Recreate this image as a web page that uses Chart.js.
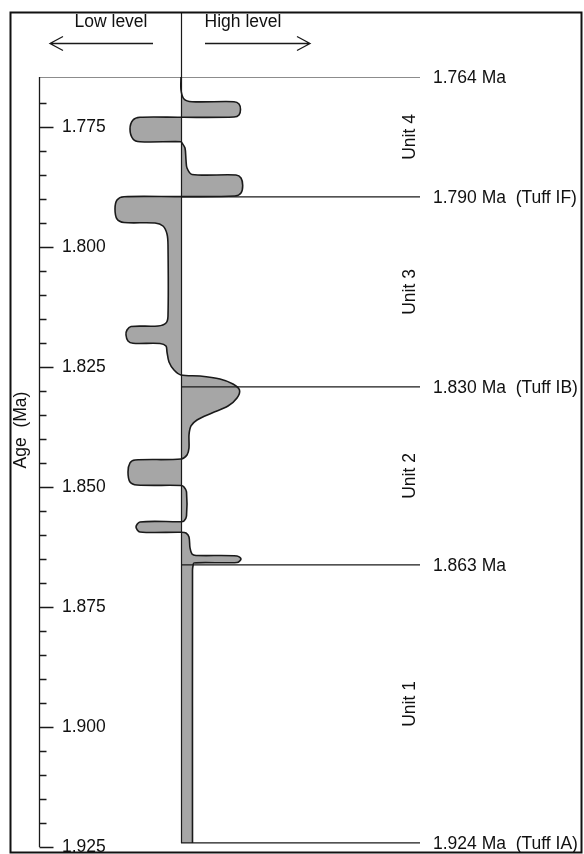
<!DOCTYPE html>
<html>
<head>
<meta charset="utf-8">
<script src="https://cdn.jsdelivr.net/npm/chart.js@4.4.1/dist/chart.umd.min.js"></script>
<style>
  html, body { margin: 0; padding: 0; background: #fff; }
  canvas { display: block; }
</style>
</head>
<body>
<canvas id="levelChart" width="584" height="854"></canvas>
<script>
// Lake level curve (relative level, 0 = centre line; negative = low, positive = high)
const curveAge = [
  1.7645, 1.76721, 1.76909, 1.76965, 1.76965, 1.77013, 1.77127, 1.77242, 1.77284, 1.7729,
  1.7729, 1.77346, 1.77534, 1.77742, 1.77799, 1.77799, 1.77826, 1.7793, 1.7818, 1.78347,
  1.78482, 1.78493, 1.78555, 1.78711, 1.78868, 1.7893, 1.78943, 1.78945, 1.79014, 1.79201,
  1.7941, 1.79483, 1.79493, 1.79556, 1.79722, 1.79952, 1.81431, 1.81577, 1.8164, 1.8165,
  1.81723, 1.81827, 1.81952, 1.82, 1.82004, 1.82057, 1.82182, 1.8239, 1.82557, 1.82661,
  1.82682, 1.82744, 1.82849, 1.82974, 1.8314, 1.83307, 1.83453, 1.83599, 1.83724, 1.83911,
  1.84182, 1.84328, 1.84412, 1.84433, 1.84495, 1.84683, 1.84891, 1.84954, 1.84964, 1.84995,
  1.85099, 1.856, 1.85704, 1.85719, 1.85725, 1.85829, 1.85933, 1.85939, 1.85954, 1.86037,
  1.86267, 1.86392, 1.86423, 1.86433, 1.86496, 1.86569, 1.86579, 1.86642, 1.86725, 1.92415
];
const curveLevel = [
  0, 0, 0.3, 1.1, 5.3, 5.8, 5.95, 5.8, 5.3, 0,
  -4.1, -4.8, -5.1, -4.8, -4.1, 0, 0.1, 0.4, 0.5, 0.6,
  1.1, 5.5, 6.0, 6.17, 6.0, 5.4, 0, -5.7, -6.4, -6.6,
  -6.4, -5.7, -2.6, -1.8, -1.4, -1.3, -1.3, -1.5, -2.3, -5.0,
  -5.4, -5.5, -5.3, -4.8, -2.1, -1.5, -1.4, -1.2, -0.7, 0,
  1.9, 3.9, 5.2, 5.85, 5.6, 4.7, 3.1, 1.6, 1.0, 0.8,
  0.8, 0.6, 0, -4.6, -5.1, -5.3, -5.1, -4.4, 0, 0.3,
  0.55, 0.55, 0.3, 0, -4.1, -4.5, -4.1, 0, 0.5, 0.8,
  0.9, 1.1, 1.5, 5.6, 6.0, 5.6, 1.3, 1.2, 1.15, 1.15
];

// Dated horizons (age where each line is drawn) and their labels
const boundaryAge = [1.7645, 1.7895, 1.8291, 1.8662, 1.92415];
const boundaryLabels = ['1.764 Ma', '1.790 Ma  (Tuff IF)', '1.830 Ma  (Tuff IB)', '1.863 Ma', '1.924 Ma  (Tuff IA)'];
const unitLabels = ['Unit 4', 'Unit 3', 'Unit 2', 'Unit 1'];

const ageMin = 1.7645;
const ageMax = 1.925;
const levelMin = -14.2;
const levelMax = 23.9;

const FONT = "'Liberation Sans', Arial, sans-serif";
const INK = '#1a1a1a';

function isMajor(v) {
    return Math.abs(Math.round(v / 0.025) * 0.025 - v) < 1e-6;
}

const datasets = [];

// horizon lines (drawn above the fill)
boundaryAge.forEach((a, i) => {
    datasets.push({
        data: [{ x: i === 0 ? levelMin : 0, y: a }, { x: levelMax, y: a }],
        borderColor: INK,
        borderWidth: 1.2,
        pointRadius: 0,
        fill: false,
        tension: 0
    });
});

// level curve
datasets.push({
    data: curveAge.map((a, i) => ({ x: curveLevel[i], y: a })),
    borderColor: INK,
    borderWidth: 1.6,
    backgroundColor: '#a6a6a6',
    pointRadius: 0,
    fill: { value: 0 },
    tension: 0.3
});

const decorPlugin = {
    id: 'decor',
    afterDraw(chart) {
        const ctx = chart.ctx;
        const xs = chart.scales.x;
        const ys = chart.scales.y;
        const area = chart.chartArea;
        const cx = Math.round(xs.getPixelForValue(0)) + 0.5;

        ctx.save();
        ctx.strokeStyle = INK;
        ctx.fillStyle = '#111';

        // centre line
        ctx.lineWidth = 1.2;
        ctx.beginPath();
        ctx.moveTo(cx, 13);
        ctx.lineTo(cx, ys.getPixelForValue(boundaryAge[boundaryAge.length - 1]));
        ctx.stroke();

        // axis line and ticks
        const ax = area.left + 0.5;
        ctx.lineWidth = 1.3;
        ctx.beginPath();
        ctx.moveTo(ax, area.top);
        ctx.lineTo(ax, area.bottom);
        ys.ticks.forEach(t => {
            if (t.value < ageMin + 0.001) return;
            const py = Math.round(ys.getPixelForValue(t.value)) + 0.5;
            ctx.moveTo(ax, py);
            ctx.lineTo(ax + (isMajor(t.value) ? 14 : 7), py);
        });
        ctx.stroke();

        // header
        ctx.font = '17.5px ' + FONT;
        ctx.textAlign = 'center';
        ctx.textBaseline = 'alphabetic';
        ctx.fillText('Low level', 111, 27);
        ctx.fillText('High level', 243, 27);

        ctx.lineWidth = 1.3;
        ctx.beginPath();
        ctx.moveTo(153, 43.5); ctx.lineTo(50, 43.5);
        ctx.moveTo(63, 36.5); ctx.lineTo(50, 43.5); ctx.lineTo(63, 50.5);
        ctx.moveTo(205, 43.5); ctx.lineTo(310, 43.5);
        ctx.moveTo(297, 36.5); ctx.lineTo(310, 43.5); ctx.lineTo(297, 50.5);
        ctx.stroke();

        // horizon labels
        ctx.textAlign = 'left';
        ctx.textBaseline = 'middle';
        boundaryAge.forEach((a, i) => {
            ctx.fillText(boundaryLabels[i], area.right + 13, ys.getPixelForValue(a) + 1);
        });

        // unit labels, centred between horizons
        unitLabels.forEach((u, i) => {
            const py = (ys.getPixelForValue(boundaryAge[i]) + ys.getPixelForValue(boundaryAge[i + 1])) / 2;
            ctx.save();
            ctx.translate(area.right - 10, py);
            ctx.rotate(-Math.PI / 2);
            ctx.textAlign = 'center';
            ctx.fillText(u, 0, 0);
            ctx.restore();
        });

        // axis title
        ctx.save();
        ctx.translate(21, 430);
        ctx.rotate(-Math.PI / 2);
        ctx.textAlign = 'center';
        ctx.fillText('Age  (Ma)', 0, 0);
        ctx.restore();

        // frame
        ctx.lineWidth = 2;
        ctx.strokeStyle = '#111';
        ctx.strokeRect(10.5, 12.5, 571, 840);

        ctx.restore();
    }
};

new Chart(document.getElementById('levelChart'), {
    type: 'line',
    data: { datasets: datasets },
    options: {
        responsive: false,
        animation: false,
        indexAxis: 'y',
        layout: { padding: { top: 77, bottom: 7, left: 0, right: 164 } },
        plugins: {
            legend: { display: false },
            tooltip: { enabled: false }
        },
        scales: {
            x: {
                type: 'linear',
                display: false,
                min: levelMin,
                max: levelMax
            },
            y: {
                type: 'linear',
                reverse: true,
                min: ageMin,
                max: ageMax,
                grid: { display: false },
                border: { display: false },
                ticks: {
                    stepSize: 0.005,
                    autoSkip: false,
                    mirror: true,
                    padding: 23,
                    color: '#111',
                    font: { family: FONT, size: 17.5 },
                    callback: (v) => isMajor(v) ? v.toFixed(3) : ''
                },
                afterFit: (scale) => {
                    scale.width = 39;
                    scale.paddingTop = 0;
                    scale.paddingBottom = 0;
                }
            }
        }
    },
    plugins: [decorPlugin]
});
</script>
</body>
</html>
